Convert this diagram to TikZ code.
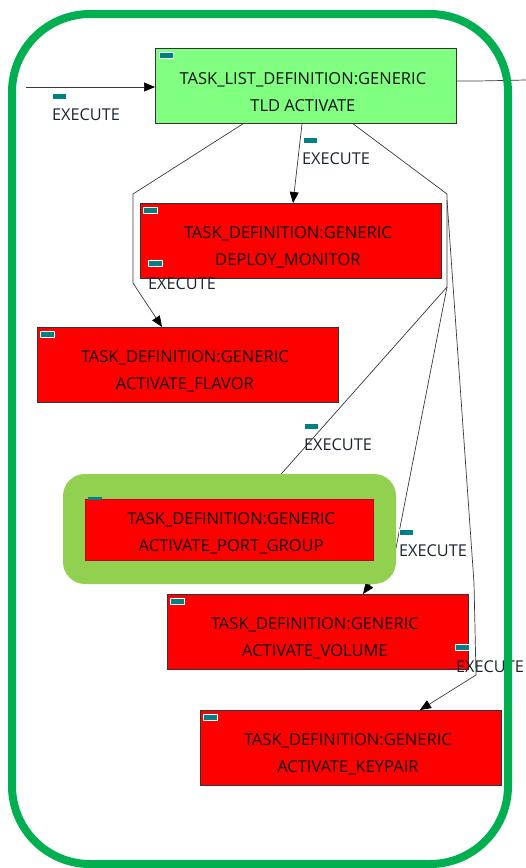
\documentclass[tikz,border=0pt]{standalone}
\usepackage{fontspec}
\setmainfont{Open Sans}
\usetikzlibrary{arrows.meta}
\definecolor{frameGreen}{HTML}{00B050}
\definecolor{tldGreen}{HTML}{80FF80}
\definecolor{hiGreen}{HTML}{92D050}
\definecolor{taskRed}{HTML}{FF0000}
\definecolor{iconTeal}{HTML}{008080}
\definecolor{edgeInk}{HTML}{3A3A3A}
\definecolor{labelInk}{HTML}{1A2430}
\definecolor{boxInk}{HTML}{101010}
\begin{document}
\begin{tikzpicture}[x=1pt,y=-1pt,
  taskbox/.style={draw=black!80, line width=0.8pt, minimum width=301pt,
    minimum height=75pt, inner sep=0pt, anchor=north west},
  redbox/.style={taskbox, fill=taskRed},
  tldbox/.style={taskbox, fill=tldGreen},
  boxtext/.style={font=\fontsize{16.5}{27}\selectfont, align=center,
    text=boxInk, inner sep=0pt, xshift=-3pt, yshift=-6pt},
  icon/.style={fill=iconTeal, draw=white, line width=0.6pt, minimum width=14pt,
    minimum height=6pt, inner sep=0pt, anchor=north west},
  edgelabel/.style={font=\fontsize{16.3}{18}\selectfont, text=labelInk,
    inner sep=0pt},
  edge/.style={draw=edgeInk, line width=0.7pt},
  arrow/.style={edge, -{Triangle[length=11pt,width=9pt,color=black]}}
]
\useasboundingbox (0,0) rectangle (526,868);
\fill[white] (0,0) rectangle (526,868);

% ---------- nodes ----------
\node[tldbox] (tld) at (155,48) {};
\node[boxtext] (tldT) at (tld.center) {TASK\_LIST\_DEFINITION:GENERIC\\TLD ACTIVATE};
\node[icon] (tldI) at (159,52) {};

\node[redbox] (dm) at (140,203) {};
\node[boxtext] (dmT) at (dm.center) {TASK\_DEFINITION:GENERIC\\DEPLOY\_MONITOR};
\node[icon] (dmI) at (143,207) {};

\node[redbox] (fl) at (37,327) {};
\node[boxtext] (flT) at (fl.center) {TASK\_DEFINITION:GENERIC\\ACTIVATE\_FLAVOR};
\node[icon] (flI) at (40,331) {};

\node[redbox] (vo) at (167,594) {};
\node[boxtext] (voT) at (vo.center) {TASK\_DEFINITION:GENERIC\\ACTIVATE\_VOLUME};
\node[icon] (voI) at (170,598) {};

\node[redbox] (kp) at (200,710) {};
\node[boxtext] (kpT) at (kp.center) {TASK\_DEFINITION:GENERIC\\ACTIVATE\_KEYPAIR};
\node[icon] (kpI) at (203,714) {};

% ---------- connectors ----------
\coordinate (inStart) at (26,87);
\draw[arrow] (inStart) -- (inStart -| tld.west);
\node[icon] (inI) at (52,93) {};
\node[edgelabel] (inL) at (86,115) {EXECUTE};

\coordinate (outBend) at (478,81);
\coordinate (outEnd) at (526,80);
\draw[edge] (tld.east |- outBend) -- (outBend) -- (outEnd);

% to DEPLOY_MONITOR
\draw[arrow] (tld.south -| 302,0) -- (dm.north -| 293,0);
\node[icon] (dmEI) at (303,137) {};
\node[edgelabel] (dmL) at (336,159) {EXECUTE};

% to ACTIVATE_FLAVOR
\coordinate (flA) at (133,194);
\coordinate (flB) at (133,283);
\draw[arrow] (tld.south -| 243,0) -- (flA) -- (flB) -- (fl.north -| 162,0);
\node[icon] (flEI) at (148,260) {};
\node[edgelabel] (flL) at (182,284) {EXECUTE};

% shared trunk to the right-hand tasks
\coordinate (trA) at (447,194);
\coordinate (trB) at (447,287);
\draw[edge] (tld.south -| 353,0) -- (trA) -- (trB);

% to ACTIVATE_PORT_GROUP (end hidden under the highlight)
\draw[arrow] (trB) -- (259,499);
\node[icon] (pgEI) at (304,423) {};
\node[edgelabel] (pgL) at (338,445) {EXECUTE};

% to ACTIVATE_VOLUME
\coordinate (voA) at (396,548);
\draw[arrow] (trB) -- (voA) -- (vo.north -| 363,0);
\node[icon] (voEI) at (399,529) {};
\node[edgelabel] (voL) at (433,551) {EXECUTE};

% to ACTIVATE_KEYPAIR
\coordinate (kpA) at (447,200);
\coordinate (kpB) at (474,583);
\coordinate (kpC) at (476,675);
\draw[arrow] (kpA) -- (kpB) -- (kpC) -- (kp.north -| 420,0);
\node[icon] (kpEI) at (455,644) {};
\node[edgelabel] (kpL) at (490,667) {EXECUTE};

% ---------- highlighted task ----------
\fill[hiGreen, rounded corners=22pt] (63,474) rectangle (396,584);
\node[fill=taskRed, draw=red!75!black, line width=0.4pt, minimum width=288pt,
  minimum height=61pt, inner sep=0pt, anchor=north west] (pg) at (85,499) {};
\node[boxtext, xshift=5pt, yshift=2pt] (pgT) at (pg.center) {TASK\_DEFINITION:GENERIC\\ACTIVATE\_PORT\_GROUP};
\fill[iconTeal] (88,497) rectangle (102,500);

% ---------- outer frame ----------
\draw[frameGreen, line width=8pt, rounded corners=78pt] (12,14) rectangle (508,864);
\end{tikzpicture}
\end{document}
